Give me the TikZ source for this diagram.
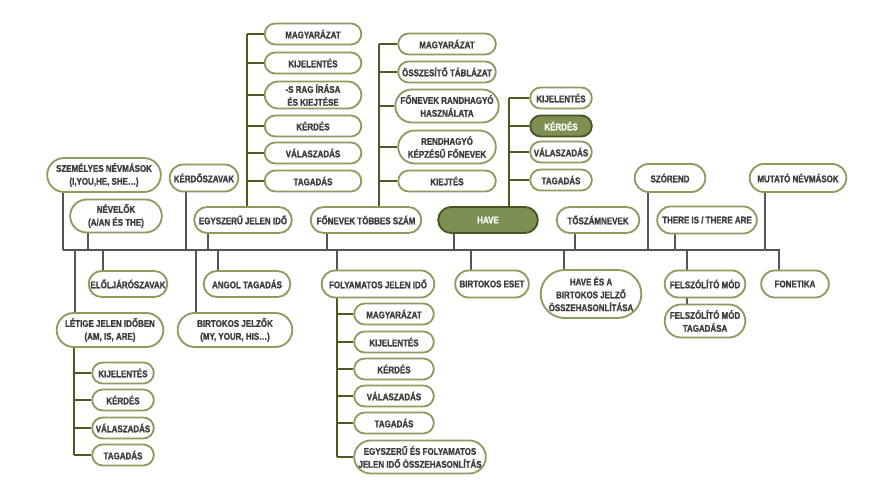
\documentclass[tikz,border=0pt]{standalone}
\usepackage{fontspec}
\newfontfamily\boxfont{Liberation Sans Bold}[FakeStretch=0.82, FakeBold=1.2]
\usetikzlibrary{shapes.misc,backgrounds}
\definecolor{boxline}{HTML}{8C9B5E}
\definecolor{havefill}{HTML}{7E8F53}
\definecolor{havedark}{HTML}{46551F}
\definecolor{trunk}{HTML}{4B5B22}
\definecolor{mainline}{HTML}{555555}
\definecolor{boxtext}{HTML}{3C3C3C}
\tikzset{pill/.style={draw=boxline, line width=0.55mm, fill=white, rounded rectangle, inner sep=1pt,
        text=boxtext, align=center, font=\fontsize{8.3}{11}\boxfont},
    hot/.style={pill, draw=havedark, fill=havefill, text=white},
    wd/.style={minimum width=#1*0.3mm},
    ht/.style={minimum height=#1*0.3mm},
    grayline/.style={draw=mainline, line width=0.6mm},
    branch/.style={draw=trunk, line width=0.6mm}}

\begin{document}
\begin{tikzpicture}[x=0.3mm,y=-0.3mm]
\useasboundingbox (0,0) rectangle (888,500);

\node[pill, wd=116, ht=34] (szem) at (104,175) {SZEMÉLYES NÉVMÁSOK\\(I,YOU,HE, SHE…)};
\node[pill, wd=94, ht=33] (nevelok) at (116,216) {NÉVELŐK\\(A/AN ÉS THE)};
\node[pill, wd=71, ht=27] (kerdosz) at (204,178) {KÉRDŐSZAVAK};
\node[pill, wd=100, ht=26] (egyszeru) at (243,220) {EGYSZERŰ JELEN IDŐ};
\node[pill, wd=113, ht=26] (fonevek) at (366,220) {FŐNEVEK TÖBBES SZÁM};
\node[hot, wd=102, ht=26] (have) at (488,220) {HAVE};
\node[pill, wd=85, ht=26] (toszam) at (598,220) {TŐSZÁMNEVEK};
\node[pill, wd=73, ht=28] (szorend) at (670,178) {SZÓREND};
\node[pill, wd=102, ht=27] (there) at (707,220) {THERE IS / THERE ARE};
\node[pill, wd=99, ht=28] (mutato) at (798,178) {MUTATÓ NÉVMÁSOK};

\node[pill, wd=81, ht=26] (elolj) at (128,284) {ELŐLJÁRÓSZAVAK};
\node[pill, wd=109, ht=34] (letige) at (110,330) {LÉTIGE JELEN IDŐBEN\\(AM, IS, ARE)};
\node[pill, wd=89, ht=26] (angol) at (247,284) {ANGOL TAGADÁS};
\node[pill, wd=117, ht=34] (birtjelz) at (235,330) {BIRTOKOS JELZŐK\\(MY, YOUR, HIS…)};
\node[pill, wd=115, ht=27] (folyam) at (378,284) {FOLYAMATOS JELEN IDŐ};
\node[pill, wd=76, ht=27] (birteset) at (492,284) {BIRTOKOS ESET};
\node[pill, wd=103, ht=48] (havees) at (591,294) {HAVE ÉS A\\BIRTOKOS JELZŐ\\ÖSSZEHASONLÍTÁSA};
\node[pill, wd=83, ht=27] (felsz) at (705,284) {FELSZÓLÍTÓ MÓD};
\node[pill, wd=83, ht=33] (felsztag) at (705,321) {FELSZÓLÍTÓ MÓD\\TAGADÁSA};
\node[pill, wd=70, ht=27] (fonetika) at (795,284) {FONETIKA};

\foreach \n/\y/\t in {e1/34/MAGYARÁZAT, e2/63/KIJELENTÉS, e4/126/KÉRDÉS, e5/153/VÁLASZADÁS, e6/181/TAGADÁS}
    \node[pill, wd=99, ht=21] (\n) at (313,\y) {\t};
\node[pill, wd=99, ht=27] (e3) at (313,95) {-S RAG ÍRÁSA\\ÉS KIEJTÉSE};

\foreach \n/\y/\t in {f1/44/MAGYARÁZAT, f2/72/ÖSSZESÍTŐ TÁBLÁZAT, f5/181/KIEJTÉS}
    \node[pill, wd=100, ht=21] (\n) at (447,\y) {\t};
\node[pill, wd=100, ht=33] (f3) at (447,106) {FŐNEVEK RANDHAGYÓ\\HASZNÁLATA};
\node[pill, wd=100, ht=33] (f4) at (447,147) {RENDHAGYÓ\\KÉPZÉSŰ FŐNEVEK};

\foreach \n/\y/\t in {h1/98/KIJELENTÉS, h3/152/VÁLASZADÁS, h4/180/TAGADÁS}
    \node[pill, wd=64, ht=21] (\n) at (561,\y) {\t};
\node[hot, wd=64, ht=21] (h2) at (561,126) {KÉRDÉS};

\foreach \n/\y/\t in {l1/373/KIJELENTÉS, l2/400/KÉRDÉS, l3/428/VÁLASZADÁS, l4/455/TAGADÁS}
    \node[pill, wd=64, ht=21] (\n) at (123,\y) {\t};

\foreach \n/\y/\t in {p1/314/MAGYARÁZAT, p2/342/KIJELENTÉS, p3/369/KÉRDÉS, p4/396/VÁLASZADÁS, p5/423/TAGADÁS}
    \node[pill, wd=82, ht=21] (\n) at (394,\y) {\t};
\node[pill, wd=134, ht=33] (p6) at (420,457) {EGYSZERŰ ÉS FOLYAMATOS\\JELEN IDŐ ÖSSZEHASONLÍTÁS};

\coordinate (mainL) at (63,250);
\coordinate (mainR) at (780,250);

\begin{scope}[on background layer]
\draw[grayline] (mainL) -- (mainR);
\foreach \n/\x in {szem/63, nevelok/88, kerdosz/186, egyszeru/208, fonevek/327, have/454,
    toszam/575, szorend/648, there/675, mutato/765}
    \draw[grayline] (\x,0 |- \n.south) -- (\x,0 |- mainL);
\foreach \n/\x in {letige/75, elolj/103, birtjelz/196, angol/218, folyam/337, birteset/471,
    havees/564, felsz/687, fonetika/779}
    \draw[grayline] (\x,0 |- \n.north) -- (\x,0 |- mainL);
\draw[grayline] (687,0 |- felsz.south) -- (687,0 |- felsztag.north);

\draw[branch] (247,0 |- e1.west) -- (247,0 |- egyszeru.north);
\foreach \c in {e1,e2,e3,e4,e5,e6}
    \draw[branch] (247,0 |- \c.west) -- (\c.west);
\draw[branch] (379,0 |- f1.west) -- (379,0 |- fonevek.north);
\foreach \c in {f1,f2,f3,f4,f5}
    \draw[branch] (379,0 |- \c.west) -- (\c.west);
\draw[branch] (509,0 |- h1.west) -- (509,0 |- have.north);
\foreach \c in {h1,h2,h3,h4}
    \draw[branch] (509,0 |- \c.west) -- (\c.west);
\draw[branch] (74,0 |- letige.south) -- (74,0 |- l4.west);
\foreach \c in {l1,l2,l3,l4}
    \draw[branch] (74,0 |- \c.west) -- (\c.west);
\draw[branch] (337,0 |- folyam.south) -- (337,0 |- p6.west);
\foreach \c in {p1,p2,p3,p4,p5,p6}
    \draw[branch] (337,0 |- \c.west) -- (\c.west);
\end{scope}
\end{tikzpicture}
\end{document}
